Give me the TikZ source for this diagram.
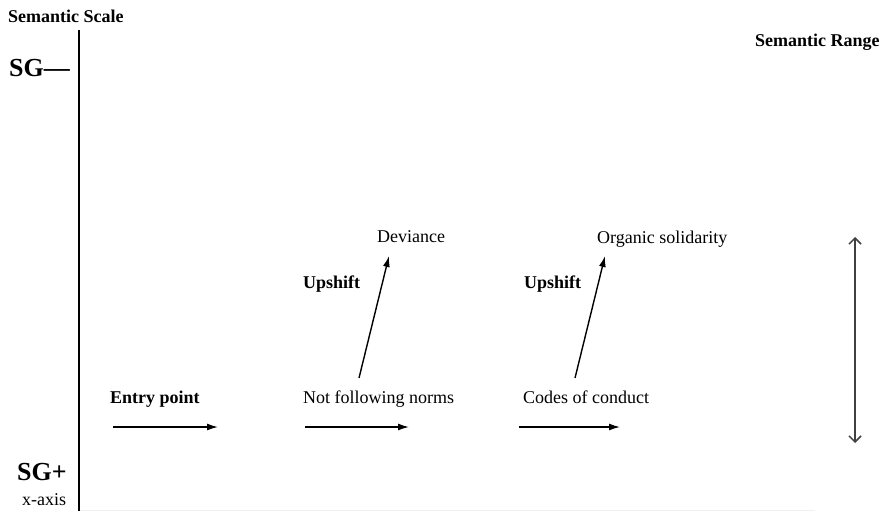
\documentclass[tikz,border=0pt]{standalone}
\usepackage{fontspec}
\setmainfont{Liberation Serif}
\usetikzlibrary{arrows.meta}
\begin{document}
\begin{tikzpicture}[x=1pt,y=-1pt,
 lbl/.style={font=\fontsize{18}{20}\selectfont, inner sep=0pt, anchor=base west},
 blbl/.style={lbl, font=\fontsize{18}{20}\selectfont\bfseries},
 big/.style={lbl, font=\fontsize{26}{28}\selectfont\bfseries},
 flow/.style={line width=1.4pt, -{Latex[length=11pt,width=7pt]}},
 axisline/.style={line width=1.8pt},
 faint/.style={draw=black!6, line width=1pt},
 rangearrow/.style={line width=1.5pt, draw=black!75, {Straight Barb[length=6pt,width=12pt]}-{Straight Barb[length=6pt,width=12pt]}}]
\useasboundingbox (0,0) rectangle (880,511);
\fill[white] (0,0) rectangle (880,511);
% texts
\node[blbl] (scale) at (8,23) {Semantic Scale};
\node[big] (sgminus) at (9,77) {SG—};
\node[big] (sgplus) at (17,480) {SG+};
\node[lbl] (xaxis) at (22,505) {x-axis};
\node[blbl] (range) at (755,47) {Semantic Range};
\node[blbl] (entry) at (110,403) {Entry point};
\node[lbl] (notfollow) at (303,403) {Not following norms};
\node[lbl] (codes) at (523,403) {Codes of conduct};
\node[lbl] (deviance) at (377,242) {Deviance};
\node[lbl] (organic) at (597,243) {Organic solidarity};
\node[blbl] (up1) at (303,288) {Upshift};
\node[blbl] (up2) at (524,288) {Upshift};
% axis
\coordinate (axtop) at (79,30);
\coordinate (axbot) at (79,511);
\coordinate (baseend) at (815,510);
\coordinate (basestart) at (79,510);
\draw[faint] (basestart) -- (baseend);
\draw[axisline] (axtop) -- (axbot);
% horizontal arrows
\coordinate (h1s) at (113,427); \coordinate (h1e) at (218,427);
\coordinate (h2s) at (305,427); \coordinate (h2e) at (409,427);
\coordinate (h3s) at (519,427); \coordinate (h3e) at (620,427);
\draw[flow] (h1s) -- (h1e);
\draw[flow] (h2s) -- (h2e);
\draw[flow] (h3s) -- (h3e);
% upshift arrows
\coordinate (u1s) at (359,378); \coordinate (u1e) at (389,256);
\coordinate (u2s) at (575,378); \coordinate (u2e) at (605,256);
\draw[flow] (u1s) -- (u1e);
\draw[flow] (u2s) -- (u2e);
% semantic range
\coordinate (rtop) at (855,237);
\coordinate (rbot) at (855,443);
\draw[rangearrow] (rtop) -- (rbot);
\end{tikzpicture}
\end{document}
